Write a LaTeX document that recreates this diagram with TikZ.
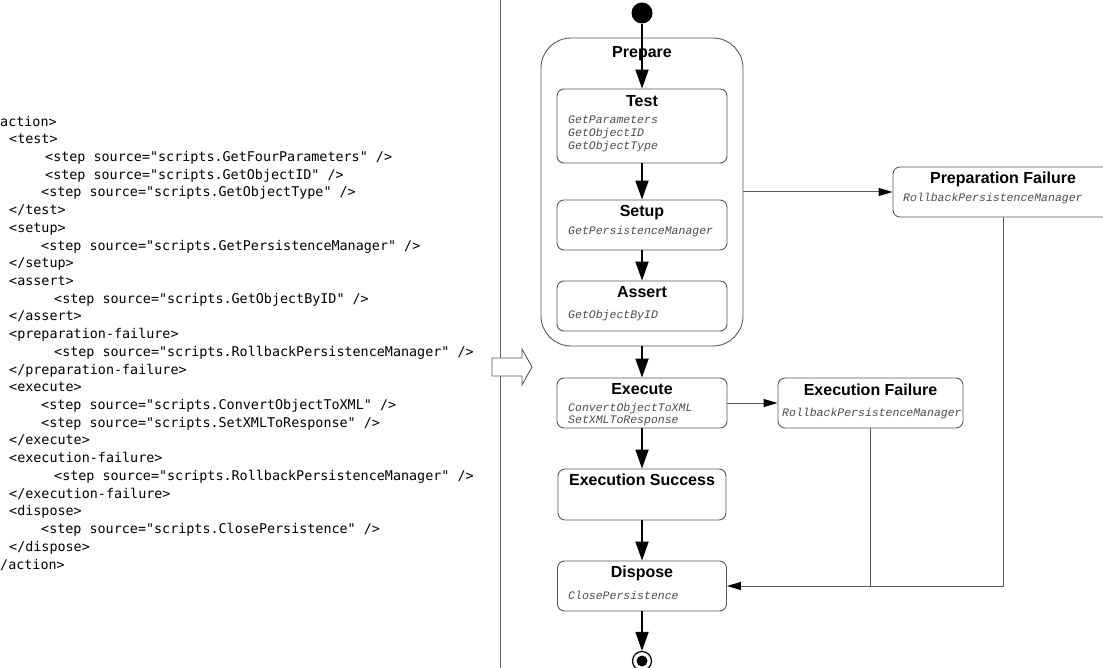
\documentclass[tikz,border=0pt]{standalone}
\usepackage{fontspec}
\setmainfont{Liberation Sans}
\setmonofont{DejaVu Sans Mono}
\newfontfamily\stepfont{Liberation Mono}
\usetikzlibrary{arrows.meta,positioning}
\definecolor{edgegray}{rgb}{0.35,0.35,0.35}
\definecolor{stepgray}{rgb}{0.30,0.30,0.30}
\tikzset{
  state/.style={draw=edgegray, line width=0.9pt, rounded corners=7pt, minimum width=170pt, minimum height=50pt, inner sep=0pt},
  title/.style={font=\fontsize{16}{16}\selectfont\bfseries, text height=11.5pt, text depth=0pt, inner sep=0pt},
  steps/.style={font=\fontsize{11.5}{12.6}\selectfont\stepfont\itshape, text=stepgray, align=left, inner sep=0pt, anchor=base west},
  code/.style={font=\fontsize{13.4}{17.72}\selectfont\ttfamily, align=left, inner sep=0pt, anchor=base west},
  flow/.style={line width=1.8pt, -{Triangle[length=19pt,width=13pt]}},
  side/.style={draw=edgegray, line width=1pt, -{Triangle[length=14pt,width=8pt,color=black]}}
}
\def\A{\hspace*{9pt}}\def\B{\hspace*{41pt}}\def\C{\hspace*{45pt}}\def\D{\hspace*{54pt}}
\begin{document}
\begin{tikzpicture}[x=1pt,y=-1pt]
\useasboundingbox (0,0) rectangle (1103,668);
% xml listing (anchored on its last line)
\node[code] (xml) at (0,569) {action>\\
\A<test>\\
\C<step source="scripts.GetFourParameters" />\\
\C<step source="scripts.GetObjectID" />\\
\B<step source="scripts.GetObjectType" />\\
\A</test>\\
\A<setup>\\
\B<step source="scripts.GetPersistenceManager" />\\
\A</setup>\\
\A<assert>\\
\D<step source="scripts.GetObjectByID" />\\
\A</assert>\\
\A<preparation-failure>\\
\D<step source="scripts.RollbackPersistenceManager" />\\
\A</preparation-failure>\\
\A<execute>\\
\B<step source="scripts.ConvertObjectToXML" />\\
\B<step source="scripts.SetXMLToResponse" />\\
\A</execute>\\
\A<execution-failure>\\
\D<step source="scripts.RollbackPersistenceManager" />\\
\A</execution-failure>\\
\A<dispose>\\
\B<step source="scripts.ClosePersistence" />\\
\A</dispose>\\
/action>};
% divider and hollow arrow
\draw[black!60, line width=1pt] (500.5,0) -- (500.5,668);
\draw[edgegray, fill=white, line width=0.9pt] (492,358) -- (522,358) -- (522,349) -- (532,367) -- (522,385) -- (522,376) -- (492,376) -- cycle;
% states
\node[circle, fill, minimum size=21pt, inner sep=0pt] (init) at (642,13) {};
\node[state, rounded corners=30pt, minimum width=202pt, minimum height=308pt] (prepare) at (642,192) {};
\node[title, below=8pt of prepare.north] (preparet) {Prepare};
\node[state, minimum height=74pt] (test) at (642,126) {};
\node[title, below=6pt of test.north] (testt) {Test};
\node[steps] (tests) at (568,149.2) {GetParameters\\GetObjectID\\GetObjectType};
\node[state] (setup) at (642,225) {};
\node[title, below=5pt of setup.north] (setupt) {Setup};
\node[steps] (setups) at (568,235) {GetPersistenceManager};
\node[state] (assert) at (642,306) {};
\node[title, below=5pt of assert.north] (assertt) {Assert};
\node[steps] (asserts) at (568,319) {GetObjectByID};
\node[state, minimum width=220pt] (prepfail) at (1003,192) {};
\node[title, below=5pt of prepfail.north] (prepfailt) {Preparation Failure};
\node[steps] (prepfails) at (903,202) {RollbackPersistenceManager};
\node[state] (execute) at (642,403) {};
\node[title, below=5pt of execute.north] (executet) {Execute};
\node[steps] (executes) at (568,423.6) {ConvertObjectToXML\\SetXMLToResponse};
\node[state, minimum width=185pt] (execfail) at (870.5,403) {};
\node[title, below=6pt of execfail.north] (execfailt) {Execution Failure};
\node[steps] (execfails) at (782,416) {RollbackPersistenceManager};
\node[state, minimum width=168pt, minimum height=51pt] (success) at (642,494.5) {};
\node[title, below=5pt of success.north] (successt) {Execution Success};
\node[state, minimum width=169pt] (dispose) at (642,586) {};
\node[title, below=5pt of dispose.north] (disposet) {Dispose};
\node[steps] (disposes) at (568,599) {ClosePersistence};
\node[circle, draw, line width=1.2pt, minimum size=19pt, inner sep=0pt] (final) at (642,661) {};
\fill (final.center) circle (5.5pt);
% transitions
\draw[flow] (init) -- (test);
\draw[flow] (test) -- (setup);
\draw[flow] (setup) -- (assert);
\draw[flow] (prepare) -- (execute);
\draw[flow] (execute) -- (success);
\draw[flow] (success) -- (dispose);
\draw[flow] (dispose) -- (final);
\draw[side] (prepare.east) -- (prepfail.west);
\draw[side] (execute.east) -- (execfail.west);
\coordinate (join) at (prepfail.south |- dispose.east);
\draw[edgegray, line width=1pt] (execfail.south) -- (execfail.south |- dispose.east);
\draw[side] (prepfail.south) -- (join) -- (dispose.east);
\end{tikzpicture}
\end{document}
